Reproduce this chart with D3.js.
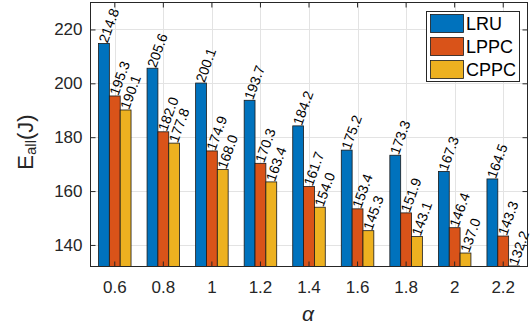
<!DOCTYPE html>
<html>
<head>
<meta charset="utf-8">
<script src="https://cdn.jsdelivr.net/npm/d3@7"></script>
<style>
  body { margin: 0; background: #fff; }
  svg text { font-family: "Liberation Sans", Arial, Helvetica, sans-serif; }
</style>
</head>
<body>
<svg id="chart" width="530" height="332"></svg>
<script>
// Energy consumption per caching policy for each Zipf parameter alpha
const categories = ["0.6", "0.8", "1", "1.2", "1.4", "1.6", "1.8", "2", "2.2"];
const seriesNames = ["LRU", "LPPC", "CPPC"];
const lruValues  = [214.8, 205.6, 200.1, 193.7, 184.2, 175.2, 173.3, 167.3, 164.5];
const lppcValues = [195.3, 182.0, 174.9, 170.3, 161.7, 153.4, 151.9, 146.4, 143.3];
const cppcValues = [190.1, 177.8, 168.0, 163.4, 154.0, 145.3, 143.1, 137.0, 132.2];
const yTicks = [140, 160, 180, 200, 220];
const yDomain = [132, 230];
const colors = ["#0072BD", "#D95319", "#EDB120"];

const series = [lruValues, lppcValues, cppcValues];

const plot = { left: 90.5, right: 527.5, top: 2.5, bottom: 266.5 };
const svg = d3.select("#chart");

const x = d3.scaleBand().domain(categories).range([plot.left, plot.right]);
const xInner = d3.scaleBand().domain(seriesNames)
  .range([0, x.bandwidth() * 0.67]);
const groupOffset = (x.bandwidth() - xInner.range()[1]) / 2;
const y = d3.scaleLinear().domain(yDomain).range([plot.bottom, plot.top]);

// grid
const grid = svg.append("g").attr("stroke", "#e3e3e3").attr("stroke-width", 1);
grid.selectAll("line.gy").data(yTicks).join("line")
  .attr("x1", plot.left).attr("x2", plot.right)
  .attr("y1", d => Math.round(y(d)) + 0.5).attr("y2", d => Math.round(y(d)) + 0.5);
grid.selectAll("line.gx").data(categories).join("line")
  .attr("y1", plot.top).attr("y2", plot.bottom)
  .attr("x1", d => Math.round(x(d) + x.bandwidth() / 2) + 0.5)
  .attr("x2", d => Math.round(x(d) + x.bandwidth() / 2) + 0.5);

// bars
const bars = svg.append("g");
seriesNames.forEach((name, si) => {
  bars.append("g").selectAll("rect").data(series[si]).join("rect")
    .attr("x", (d, i) => x(categories[i]) + groupOffset + xInner(name))
    .attr("width", xInner.bandwidth())
    .attr("y", d => y(d))
    .attr("height", d => plot.bottom - y(d))
    .attr("fill", colors[si])
    .attr("stroke", "#1a1a1a")
    .attr("stroke-width", 0.8);
});

// value labels
const labels = svg.append("g");
seriesNames.forEach((name, si) => {
  labels.append("g").selectAll("text").data(series[si]).join("text")
    .attr("transform", (d, i) => {
      const cx = x(categories[i]) + groupOffset + xInner(name) + xInner.bandwidth() / 2;
      return `translate(${cx},${y(d) - 1}) rotate(-70)`;
    })
    .attr("text-anchor", "start")
    .attr("dominant-baseline", "middle")
    .attr("font-size", 14)
    .attr("fill", "#000")
    .text(d => d.toFixed(1));
});

// axes box and ticks
const axisColor = "#262626";
const yAxis = svg.append("g").attr("transform", `translate(${plot.left},0)`)
  .call(d3.axisLeft(y).tickValues(yTicks).tickSize(-5).tickPadding(8));
const yAxisR = svg.append("g").attr("transform", `translate(${plot.right},0)`)
  .call(d3.axisRight(y).tickValues(yTicks).tickSize(-5).tickFormat(""));
const xAxis = svg.append("g").attr("transform", `translate(0,${plot.bottom})`)
  .call(d3.axisBottom(x).tickSize(-5).tickPadding(14));
const xAxisT = svg.append("g").attr("transform", `translate(0,${plot.top})`)
  .call(d3.axisTop(x).tickSize(-5).tickFormat(""));

[yAxis, yAxisR, xAxis, xAxisT].forEach(g => {
  g.select(".domain").remove();
  g.selectAll("line").attr("stroke", axisColor);
  g.selectAll("text").attr("font-size", 17).attr("fill", axisColor)
    .attr("font-family", '"Liberation Sans", Arial, sans-serif');
});

svg.append("rect")
  .attr("x", plot.left).attr("y", plot.top)
  .attr("width", plot.right - plot.left).attr("height", plot.bottom - plot.top)
  .attr("fill", "none").attr("stroke", axisColor).attr("stroke-width", 1);

// axis titles
const yTitle = svg.append("text")
  .attr("transform", "translate(33,142) rotate(-90)")
  .attr("text-anchor", "middle")
  .attr("font-size", 22)
  .attr("fill", axisColor);
yTitle.append("tspan").text("E");
yTitle.append("tspan").attr("font-size", 15).attr("dy", 3).text("all");
yTitle.append("tspan").attr("dy", -3).text("(J)");

svg.append("text")
  .attr("x", (plot.left + plot.right) / 2 - 1).attr("y", 321)
  .attr("text-anchor", "middle")
  .attr("font-family", '"Liberation Serif", "DejaVu Serif", serif')
  .attr("font-style", "italic")
  .attr("font-size", 21)
  .attr("fill", axisColor)
  .text("α");

// legend
const legend = svg.append("g");
legend.append("rect")
  .attr("x", 426.5).attr("y", 11.5).attr("width", 93).attr("height", 70)
  .attr("fill", "#fff").attr("stroke", axisColor).attr("stroke-width", 1);
seriesNames.forEach((name, si) => {
  const top = 14.5 + si * 23;
  legend.append("rect")
    .attr("x", 430.5).attr("y", top).attr("width", 33).attr("height", 18)
    .attr("fill", colors[si]).attr("stroke", "#1a1a1a").attr("stroke-width", 0.8);
  legend.append("text")
    .attr("x", 466).attr("y", top + 9)
    .attr("dominant-baseline", "central")
    .attr("font-size", 18)
    .attr("fill", "#000")
    .text(name);
});
</script>
</body>
</html>
